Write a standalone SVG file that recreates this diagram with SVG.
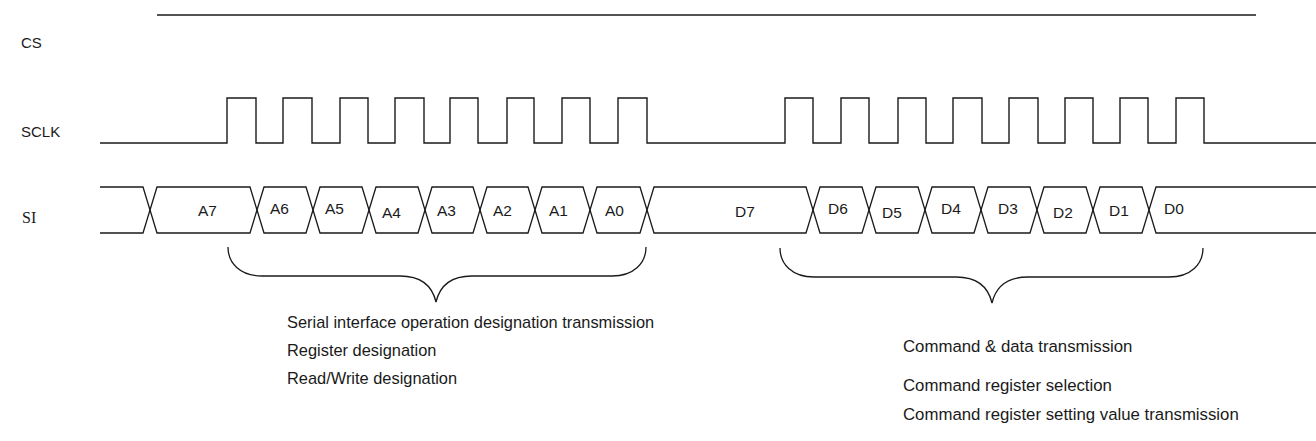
<svg xmlns="http://www.w3.org/2000/svg" width="1316" height="441" viewBox="0 0 1316 441">
<style>
.sig{fill:none;stroke:#1a1a1a;stroke-width:1.4;stroke-linejoin:miter}
.cell{fill:none;stroke:#1a1a1a;stroke-width:1.3}
.brace{fill:none;stroke:#1a1a1a;stroke-width:1.3}
.name{font-family:"Liberation Sans",Arial,sans-serif;font-size:15px;fill:#1a1a1a}
.serif{font-family:"Liberation Serif","Times New Roman",serif;font-size:16px;fill:#1a1a1a}
.lbl{font-family:"Liberation Sans",Arial,sans-serif;font-size:15.5px;fill:#1a1a1a}
.note{font-family:"Liberation Sans",Arial,sans-serif;font-size:16.4px;fill:#1a1a1a}
.note2{font-family:"Liberation Sans",Arial,sans-serif;font-size:16.8px;fill:#1a1a1a}
</style>
<rect width="1316" height="441" fill="#ffffff"/>
<g id="labels">
<text class="name" x="21" y="48">CS</text>
<text class="name" x="21" y="137">SCLK</text>
<text class="serif" x="22" y="223">SI</text>
</g>
<g id="cs">
<path class="sig" d="M157,15 H1256"/>
</g>
<g id="sclk">
<path class="sig" d="M100,143 H227 V98 H256 V143 H283 V98 H312 V143 H340 V98 H368 V143 H395 V98 H424 V143 H450 V98 H478 V143 H507 V98 H534 V143 H562 V98 H590 V143 H618 V98 H647 V143 H785 V98 H813 V143 H841 V98 H869 V143 H898 V98 H926 V143 H953 V98 H982 V143 H1009 V98 H1038 V143 H1065 V98 H1093 V143 H1120 V98 H1148 V143 H1176 V98 H1204 V143 H1316"/>
</g>
<g id="si">
<path class="cell" d="M100,187 H143 L150,210 L143,233 H100"/>
<g id="cell-A7"><polygon class="cell" points="150,210 157,187 250,187 257,210 250,233 157,233"/><text class="lbl" x="198" y="216">A7</text></g>
<g id="cell-A6"><polygon class="cell" points="257,210 264,187 306,187 313,210 306,233 264,233"/><text class="lbl" x="270" y="214">A6</text></g>
<g id="cell-A5"><polygon class="cell" points="313,210 320,187 362,187 369,210 362,233 320,233"/><text class="lbl" x="325" y="214">A5</text></g>
<g id="cell-A4"><polygon class="cell" points="369,210 376,187 418,187 425,210 418,233 376,233"/><text class="lbl" x="382" y="218">A4</text></g>
<g id="cell-A3"><polygon class="cell" points="425,210 432,187 473,187 480,210 473,233 432,233"/><text class="lbl" x="437" y="216">A3</text></g>
<g id="cell-A2"><polygon class="cell" points="480,210 487,187 528,187 535,210 528,233 487,233"/><text class="lbl" x="493" y="216">A2</text></g>
<g id="cell-A1"><polygon class="cell" points="535,210 542,187 583,187 590,210 583,233 542,233"/><text class="lbl" x="549" y="216">A1</text></g>
<g id="cell-A0"><polygon class="cell" points="590,210 597,187 640,187 647,210 640,233 597,233"/><text class="lbl" x="605" y="216">A0</text></g>
<g id="cell-D7"><polygon class="cell" points="647,210 654,187 806,187 813,210 806,233 654,233"/><text class="lbl" x="735" y="217">D7</text></g>
<g id="cell-D6"><polygon class="cell" points="813,210 820,187 862,187 869,210 862,233 820,233"/><text class="lbl" x="828" y="214">D6</text></g>
<g id="cell-D5"><polygon class="cell" points="869,210 876,187 918,187 925,210 918,233 876,233"/><text class="lbl" x="882" y="218">D5</text></g>
<g id="cell-D4"><polygon class="cell" points="925,210 932,187 974,187 981,210 974,233 932,233"/><text class="lbl" x="941" y="214">D4</text></g>
<g id="cell-D3"><polygon class="cell" points="981,210 988,187 1030,187 1037,210 1030,233 988,233"/><text class="lbl" x="998" y="214">D3</text></g>
<g id="cell-D2"><polygon class="cell" points="1037,210 1044,187 1086,187 1093,210 1086,233 1044,233"/><text class="lbl" x="1053" y="218">D2</text></g>
<g id="cell-D1"><polygon class="cell" points="1093,210 1100,187 1142,187 1149,210 1142,233 1100,233"/><text class="lbl" x="1109" y="216">D1</text></g>
<g id="cell-D0"><path class="cell" d="M1316,187 H1156 L1149,210 L1156,233 H1316"/><text class="lbl" x="1164" y="214">D0</text></g>
</g>
<g id="connectors">
<path class="brace" d="M228,247 C228,263 240,276 262,276 L400,276 C420,276 432,285 436,302 C440,285 452,276 472,276 L612,276 C634,276 646,263 646,247"/>
<path class="brace" d="M780,248 C780,264 792,277 814,277 L956,277 C976,277 988,286 992,303 C996,286 1008,277 1028,277 L1169,277 C1191,277 1203,264 1203,248"/>
</g>
<g id="notes">
<text class="note" x="287" y="328">Serial interface operation designation transmission</text>
<text class="note" x="287" y="356">Register designation</text>
<text class="note" x="287" y="384">Read/Write designation</text>
<text class="note2" x="903" y="352">Command &amp; data transmission</text>
<text class="note2" x="903" y="391">Command register selection</text>
<text class="note2" x="903" y="420">Command register setting value transmission</text>
</g>
</svg>
